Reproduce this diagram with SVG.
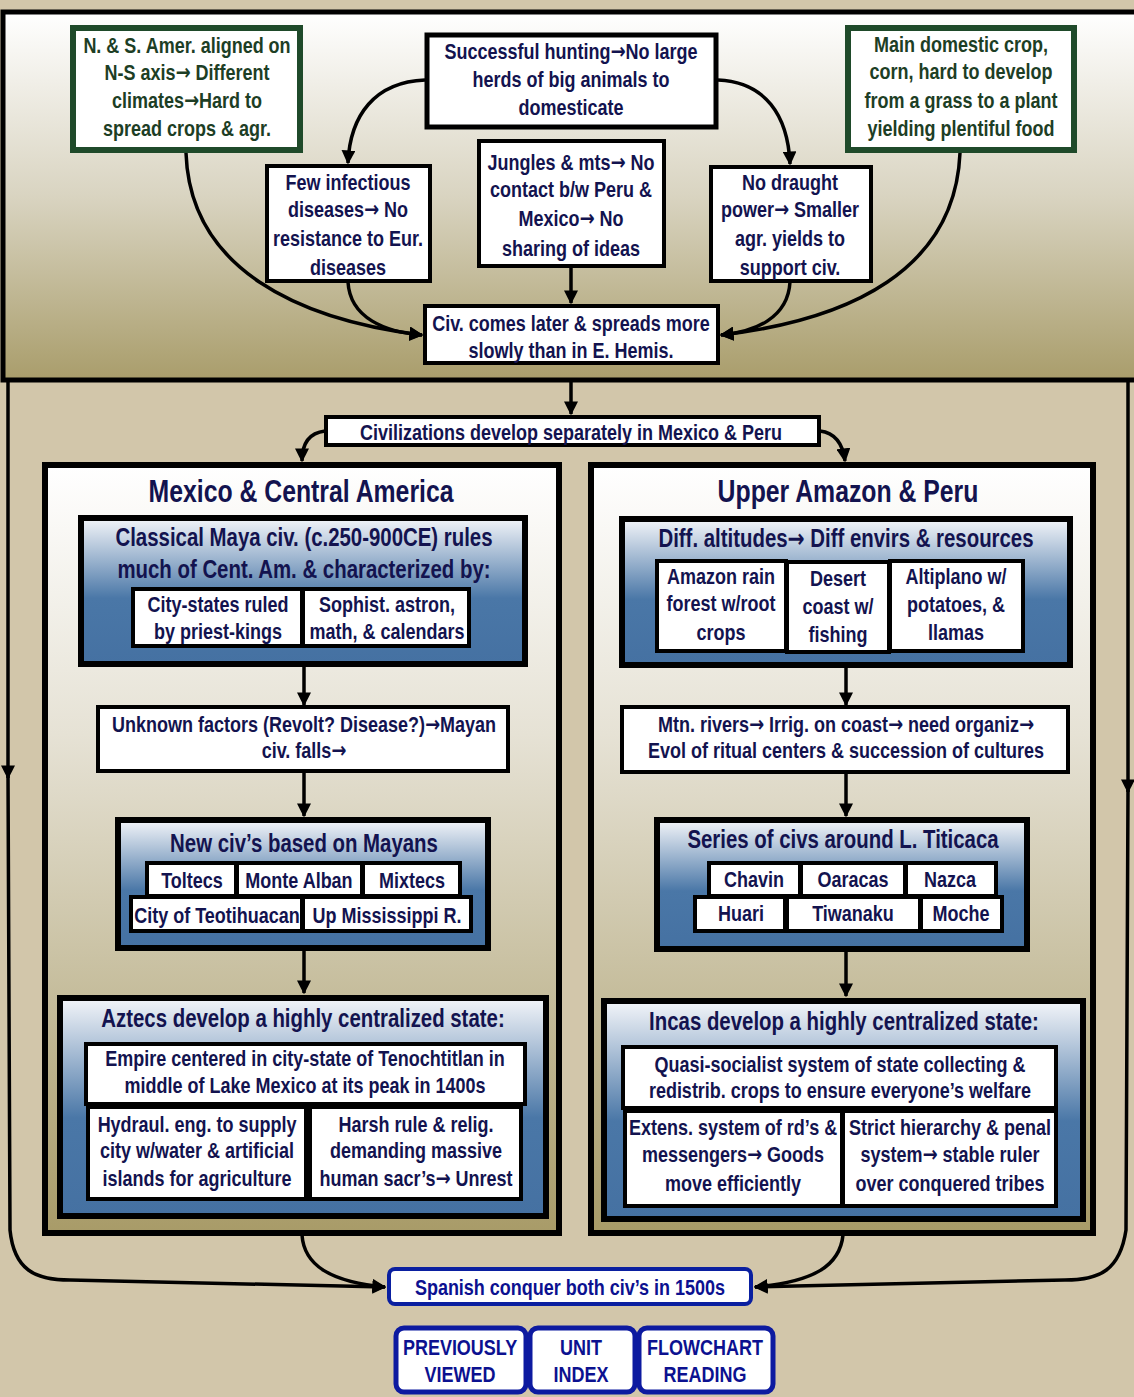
<svg xmlns="http://www.w3.org/2000/svg" width="1134" height="1397" viewBox="0 0 1134 1397">
<defs>
  <linearGradient id="gTop" x1="0" y1="0" x2="0" y2="1">
    <stop offset="0" stop-color="#ffffff"/>
    <stop offset="0.5" stop-color="#d9d4c1"/>
    <stop offset="1" stop-color="#a99d6b"/>
  </linearGradient>
  <linearGradient id="gPanel" x1="0" y1="0" x2="0" y2="1">
    <stop offset="0" stop-color="#ffffff"/>
    <stop offset="0.35" stop-color="#e6e2d5"/>
    <stop offset="1" stop-color="#a89b68"/>
  </linearGradient>
  <linearGradient id="gBlue" x1="0" y1="0" x2="0" y2="1">
    <stop offset="0" stop-color="#f3f5f9"/>
    <stop offset="0.55" stop-color="#4a77a7"/>
    <stop offset="1" stop-color="#4571a2"/>
  </linearGradient>
  <marker id="ah" viewBox="0 0 10 10" refX="9" refY="5" markerWidth="4" markerHeight="4" orient="auto" markerUnits="strokeWidth">
    <path d="M0,0 L10,5 L0,10 z" fill="#000"/>
  </marker>
  <style>
    .t{font-family:"Liberation Sans",Arial,sans-serif;font-weight:bold;fill:#13134f;text-anchor:middle;dominant-baseline:central;font-size:22.5px;transform-box:fill-box;transform-origin:center;transform:scaleX(0.8)}
    .a{font-family:"DejaVu Sans",sans-serif;font-weight:bold}
    .g{fill:#1d3e25}
    .ttl{font-size:31px}
    .hd{font-size:25.5px}
    .bt{fill:#0c1190}
    .box{fill:#fff;stroke:#000;stroke-width:4}
    .thick{fill:#fff;stroke:#000;stroke-width:5}
    .green{fill:#fff;stroke:#1f4a2a;stroke-width:6}
    .blue{fill:url(#gBlue);stroke:#000;stroke-width:6}
    .panel{fill:url(#gPanel);stroke:#000;stroke-width:6}
    .btn{fill:#fff;stroke:#0d1aa0;stroke-width:5}
    .c{fill:none;stroke:#000;stroke-width:3.5;marker-end:url(#ah)}
  </style>
</defs>

<!-- page background -->
<rect x="0" y="0" width="1134" height="1397" fill="#d2c6aa"/>

<!-- top band: causes -->
<rect id="top-band" x="3" y="12" width="1140" height="368" fill="url(#gTop)" stroke="#000" stroke-width="5"/>

<!-- side panels -->
<rect id="panel-mexico" class="panel" x="45" y="465" width="514" height="768"/>
<rect id="panel-peru" class="panel" x="591" y="465" width="502" height="768"/>

<!-- connectors -->
<g id="connectors">
  <path class="c" d="M425,80 C375,82 350,115 348,163"/>
  <path class="c" d="M718,80 C765,82 788,115 790,164"/>
  <path class="c" d="M186,153 C190,270 300,320 422,335"/>
  <path class="c" d="M348,282 C350,318 385,332 422,335"/>
  <path class="c" d="M571,267 L571,303"/>
  <path class="c" d="M790,282 C788,318 755,332 721,335"/>
  <path class="c" d="M960,153 C955,270 850,320 721,335"/>
  <path class="c" d="M571,380 L571,414"/>
  <path class="c" d="M325,431 C308,433 302,445 302,461"/>
  <path class="c" d="M820,431 C836,433 843,445 845,461"/>
  <path class="c" d="M304,666 L304,705"/>
  <path class="c" d="M304,772 L304,816"/>
  <path class="c" d="M304,950 L304,993"/>
  <path class="c" d="M846,667 L846,705"/>
  <path class="c" d="M846,773 L846,816"/>
  <path class="c" d="M846,951 L846,996"/>
  <path class="c" d="M8,380 L8,778"/>
  <path class="c" d="M1128,380 L1128,792"/>
  <path class="c" d="M8,775 L10,1230 C14,1270 35,1280 70,1280 L385,1287"/>
  <path class="c" d="M1128,790 L1126,1230 C1120,1270 1100,1280 1065,1280 L755,1287"/>
  <path class="c" d="M302,1235 C304,1265 330,1282 385,1287"/>
  <path class="c" d="M843,1235 C840,1265 815,1282 755,1287"/>
</g>

<!-- top band nodes -->
<g id="n-axis">
  <rect class="green" x="73" y="28" width="227" height="122"/>
  <text class="t g" x="187" y="45">N. &amp; S. Amer. aligned on</text>
  <text class="t g" x="187" y="72">N-S axis<tspan class="a">→</tspan> Different</text>
  <text class="t g" x="187" y="100">climates<tspan class="a">→</tspan>Hard to</text>
  <text class="t g" x="187" y="128">spread crops &amp; agr.</text>
</g>
<g id="n-hunting">
  <rect class="thick" x="427" y="35" width="289" height="92"/>
  <text class="t" x="571" y="51">Successful hunting<tspan class="a">→</tspan>No large</text>
  <text class="t" x="571" y="79">herds of big animals to</text>
  <text class="t" x="571" y="107">domesticate</text>
</g>
<g id="n-corn">
  <rect class="green" x="848" y="28" width="226" height="122"/>
  <text class="t g" x="961" y="44">Main domestic crop,</text>
  <text class="t g" x="961" y="71">corn, hard to develop</text>
  <text class="t g" x="961" y="100">from a grass to a plant</text>
  <text class="t g" x="961" y="128">yielding plentiful food</text>
</g>
<g id="n-disease">
  <rect class="box" x="267" y="166" width="163" height="115"/>
  <text class="t" x="348" y="182">Few infectious</text>
  <text class="t" x="348" y="209">diseases<tspan class="a">→</tspan> No</text>
  <text class="t" x="348" y="238">resistance to Eur.</text>
  <text class="t" x="348" y="267">diseases</text>
</g>
<g id="n-jungles">
  <rect class="box" x="479" y="141" width="185" height="125"/>
  <text class="t" x="571" y="162">Jungles &amp; mts<tspan class="a">→</tspan> No</text>
  <text class="t" x="571" y="189">contact b/w Peru &amp;</text>
  <text class="t" x="571" y="218">Mexico<tspan class="a">→</tspan> No</text>
  <text class="t" x="571" y="248">sharing of ideas</text>
</g>
<g id="n-draught">
  <rect class="box" x="711" y="167" width="160" height="114"/>
  <text class="t" x="790" y="182">No draught</text>
  <text class="t" x="790" y="209">power<tspan class="a">→</tspan> Smaller</text>
  <text class="t" x="790" y="238">agr. yields to</text>
  <text class="t" x="790" y="267">support civ.</text>
</g>
<g id="n-later">
  <rect class="box" x="425" y="306" width="293" height="57"/>
  <text class="t" x="571" y="323">Civ. comes later &amp; spreads more</text>
  <text class="t" x="571" y="350">slowly than in E. Hemis.</text>
</g>

<g id="n-separately">
  <rect class="box" x="326" y="417" width="493" height="28"/>
  <text class="t" x="571" y="432">Civilizations develop separately in Mexico &amp; Peru</text>
</g>

<!-- Mexico & Central America -->
<g id="n-mexico-title">
  <text class="t ttl" x="301" y="492">Mexico &amp; Central America</text>
</g>
<g id="n-maya">
  <rect class="blue" x="81" y="518" width="444" height="146"/>
  <text class="t hd" x="304" y="537">Classical Maya civ. (c.250-900CE) rules</text>
  <text class="t hd" x="304" y="569">much of Cent. Am. &amp; characterized by:</text>
  <rect class="box" x="133" y="589" width="169" height="57"/>
  <rect class="box" x="303" y="589" width="166" height="57"/>
  <text class="t" x="218" y="604">City-states  ruled</text>
  <text class="t" x="218" y="631">by priest-kings</text>
  <text class="t" x="387" y="604">Sophist. astron,</text>
  <text class="t" x="387" y="631">math, &amp; calendars</text>
</g>
<g id="n-unknown">
  <rect class="box" x="98" y="707" width="410" height="64"/>
  <text class="t" x="304" y="724">Unknown factors (Revolt? Disease?)<tspan class="a">→</tspan>Mayan</text>
  <text class="t" x="304" y="750">civ. falls<tspan class="a">→</tspan></text>
</g>
<g id="n-newciv">
  <rect class="blue" x="118" y="820" width="370" height="128"/>
  <text class="t hd" x="304" y="843">New civ’s based on Mayans</text>
  <rect class="box" x="147" y="863" width="89" height="33"/>
  <rect class="box" x="237" y="863" width="125" height="33"/>
  <rect class="box" x="363" y="863" width="97" height="33"/>
  <rect class="box" x="131" y="897" width="171" height="34"/>
  <rect class="box" x="303" y="897" width="168" height="34"/>
  <text class="t" x="192" y="880">Toltecs</text>
  <text class="t" x="299" y="880">Monte Alban</text>
  <text class="t" x="412" y="880">Mixtecs</text>
  <text class="t" x="217" y="915">City of Teotihuacan</text>
  <text class="t" x="387" y="915">Up Mississippi R.</text>
</g>
<g id="n-aztecs">
  <rect class="blue" x="60" y="998" width="486" height="218"/>
  <text class="t hd" x="303" y="1018">Aztecs develop a highly centralized state:</text>
  <rect class="box" x="86" y="1044" width="439" height="60"/>
  <text class="t" x="305" y="1058">Empire centered in city-state of Tenochtitlan in</text>
  <text class="t" x="305" y="1085">middle of Lake Mexico at its peak in 1400s</text>
  <rect class="box" x="88" y="1107" width="218" height="92"/>
  <rect class="box" x="310" y="1107" width="211" height="92"/>
  <text class="t" x="197" y="1124">Hydraul. eng. to supply</text>
  <text class="t" x="197" y="1150">city w/water &amp; artificial</text>
  <text class="t" x="197" y="1178">islands for agriculture</text>
  <text class="t" x="416" y="1124">Harsh rule &amp; relig.</text>
  <text class="t" x="416" y="1150">demanding massive</text>
  <text class="t" x="416" y="1178">human sacr’s<tspan class="a">→</tspan> Unrest</text>
</g>

<!-- Upper Amazon & Peru -->
<g id="n-peru-title">
  <text class="t ttl" x="848" y="492">Upper Amazon &amp; Peru</text>
</g>
<g id="n-altitudes">
  <rect class="blue" x="622" y="519" width="448" height="146"/>
  <text class="t hd" x="846" y="538">Diff. altitudes<tspan class="a">→</tspan> Diff envirs &amp; resources</text>
  <rect class="box" x="657" y="561" width="129" height="90"/>
  <rect class="box" x="787" y="562" width="102" height="90"/>
  <rect class="box" x="890" y="561" width="133" height="90"/>
  <text class="t" x="721" y="576">Amazon rain</text>
  <text class="t" x="721" y="603">forest w/root</text>
  <text class="t" x="721" y="632">crops</text>
  <text class="t" x="838" y="578">Desert</text>
  <text class="t" x="838" y="606">coast w/</text>
  <text class="t" x="838" y="634">fishing</text>
  <text class="t" x="956" y="576">Altiplano w/</text>
  <text class="t" x="956" y="604">potatoes, &amp;</text>
  <text class="t" x="956" y="632">llamas</text>
</g>
<g id="n-rivers">
  <rect class="box" x="622" y="707" width="446" height="65"/>
  <text class="t" x="846" y="724">Mtn. rivers<tspan class="a">→</tspan> Irrig. on coast<tspan class="a">→</tspan> need organiz<tspan class="a">→</tspan></text>
  <text class="t" x="846" y="750">Evol of ritual centers &amp; succession of cultures</text>
</g>
<g id="n-titicaca">
  <rect class="blue" x="657" y="820" width="370" height="129"/>
  <text class="t hd" x="843" y="839">Series of civs around L. Titicaca</text>
  <rect class="box" x="709" y="863" width="91" height="33"/>
  <rect class="box" x="801" y="863" width="104" height="33"/>
  <rect class="box" x="906" y="863" width="90" height="33"/>
  <rect class="box" x="695" y="897" width="90" height="34"/>
  <rect class="box" x="787" y="897" width="133" height="34"/>
  <rect class="box" x="921" y="897" width="81" height="34"/>
  <text class="t" x="754" y="879">Chavin</text>
  <text class="t" x="853" y="879">Oaracas</text>
  <text class="t" x="950" y="879">Nazca</text>
  <text class="t" x="741" y="913">Huari</text>
  <text class="t" x="853" y="913">Tiwanaku</text>
  <text class="t" x="961" y="913">Moche</text>
</g>
<g id="n-incas">
  <rect class="blue" x="604" y="1001" width="479" height="218"/>
  <text class="t hd" x="844" y="1021">Incas develop a highly centralized state:</text>
  <rect class="box" x="623" y="1047" width="433" height="61"/>
  <text class="t" x="840" y="1064">Quasi-socialist system of state collecting &amp;</text>
  <text class="t" x="840" y="1090">redistrib. crops to ensure everyone’s welfare</text>
  <rect class="box" x="625" y="1111" width="217" height="95"/>
  <rect class="box" x="843" y="1111" width="213" height="95"/>
  <text class="t" x="733" y="1127">Extens. system of rd’s &amp;</text>
  <text class="t" x="733" y="1154">messengers<tspan class="a">→</tspan> Goods</text>
  <text class="t" x="733" y="1183">move efficiently</text>
  <text class="t" x="950" y="1127">Strict hierarchy &amp; penal</text>
  <text class="t" x="950" y="1154">system<tspan class="a">→</tspan> stable ruler</text>
  <text class="t" x="950" y="1183">over conquered tribes</text>
</g>

<!-- outcome -->
<g id="n-spanish">
  <rect x="389" y="1269" width="362" height="35" rx="6" fill="#fff" stroke="#0a1fa0" stroke-width="4"/>
  <text class="t bt" x="570" y="1287">Spanish conquer both civ’s in 1500s</text>
</g>

<!-- navigation buttons -->
<g id="btn-previous">
  <rect class="btn" x="396" y="1328" width="130" height="64" rx="8"/>
  <text class="t bt" x="460" y="1347">PREVIOUSLY</text>
  <text class="t bt" x="460" y="1374">VIEWED</text>
</g>
<g id="btn-index">
  <rect class="btn" x="530" y="1328" width="105" height="64" rx="8"/>
  <text class="t bt" x="581" y="1347">UNIT</text>
  <text class="t bt" x="581" y="1374">INDEX</text>
</g>
<g id="btn-reading">
  <rect class="btn" x="639" y="1328" width="134" height="64" rx="8"/>
  <text class="t bt" x="705" y="1347">FLOWCHART</text>
  <text class="t bt" x="705" y="1374">READING</text>
</g>
</svg>
